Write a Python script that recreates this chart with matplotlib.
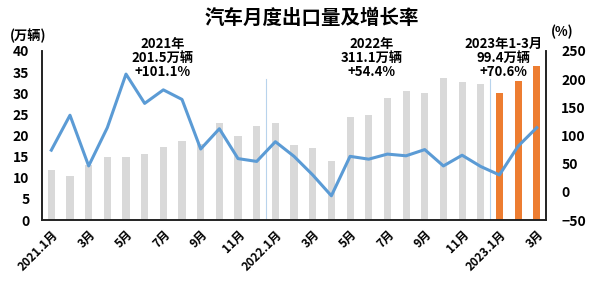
import numpy as np
import matplotlib
matplotlib.use("Agg")
import matplotlib.pyplot as plt

plt.rcParams['font.family'] = ['Noto Sans CJK SC', 'DejaVu Sans']
plt.rcParams['font.weight'] = 'bold'

# monthly exports, 10k vehicles
months = ['2021.1月', '2月', '3月', '4月', '5月', '6月', '7月', '8月', '9月', '10月', '11月', '12月',
          '2022.1月', '2月', '3月', '4月', '5月', '6月', '7月', '8月', '9月', '10月', '11月', '12月',
          '2023.1月', '2月', '3月']
exports = [11.9, 10.4, 13.0, 14.9, 14.9, 15.7, 17.3, 18.7, 18.0, 23.0, 19.9, 22.2,
           23.0, 17.8, 17.0, 14.0, 24.3, 24.9, 28.9, 30.6, 30.0, 33.6, 32.7, 32.3,
           30.1, 32.9, 36.5]
# year-on-year growth, %
growth = [74, 136, 46, 114, 209, 157, 181, 164, 76, 112, 59, 54,
          89, 63, 30, -7, 63, 58, 67, 64, 75, 46, 65, 45,
          30, 81, 114]
year_notes = ['2021年\n201.5万辆\n+101.1%', '2022年\n311.1万辆\n+54.4%', '2023年1-3月\n99.4万辆\n+70.6%']
note_x = [5.95, 17.15, 24.2]

gray = '#d9d9d9'
orange = '#ed7d31'
blue = '#5b9bd5'

x = np.arange(len(months))
colors = [orange if i >= 24 else gray for i in range(len(months))]

fig = plt.figure(figsize=(5.98, 2.88), dpi=100)
ax = fig.add_axes([0.0702, 0.236, 0.843, 0.587])
ax.bar(x, exports, width=0.38, color=colors, zorder=2)
ax.set_ylim(0, 40)
ax.set_xlim(-0.5, len(months) - 0.5)
ax.set_yticks(range(0, 41, 5))
ax.set_xticks(x[::2])
ax.set_xticklabels(months[::2], rotation=45, ha='right', rotation_mode='anchor', fontsize=8.5)
ax.tick_params(axis='y', length=0, labelsize=10, pad=9)
ax.tick_params(axis='x', length=0, pad=6)
for yr in [11.5, 23.5]:
    ax.axvline(yr, ymax=0.835, color='#b8d3ec', lw=0.8, zorder=1)

ax2 = ax.twinx()
ax2.plot(x, growth, color=blue, lw=2.2, zorder=3)
ax2.set_ylim(-50, 250)
ax2.set_yticks(range(-50, 251, 50))
ax2.tick_params(length=0, labelsize=10, pad=11)

for a in (ax, ax2):
    a.spines['top'].set_visible(False)
    for s in ('left', 'right', 'bottom'):
        a.spines[s].set_color('#222222')
        a.spines[s].set_linewidth(1.2)

for t, nx in zip(year_notes, note_x):
    ax.text(nx, 33.3, t, ha='center', va='bottom', fontsize=9.5, linespacing=1.0,
            clip_on=False)

fig.text(0.522, 0.937, '汽车月度出口量及增长率', ha='center', va='center', fontsize=14, weight='bold')
fig.text(0.047, 0.875, '(万辆)', ha='center', va='center', fontsize=9.5)
fig.text(0.94, 0.89, '(%)', ha='center', va='center', fontsize=9.5)

fig.savefig('out.png', dpi=100)
